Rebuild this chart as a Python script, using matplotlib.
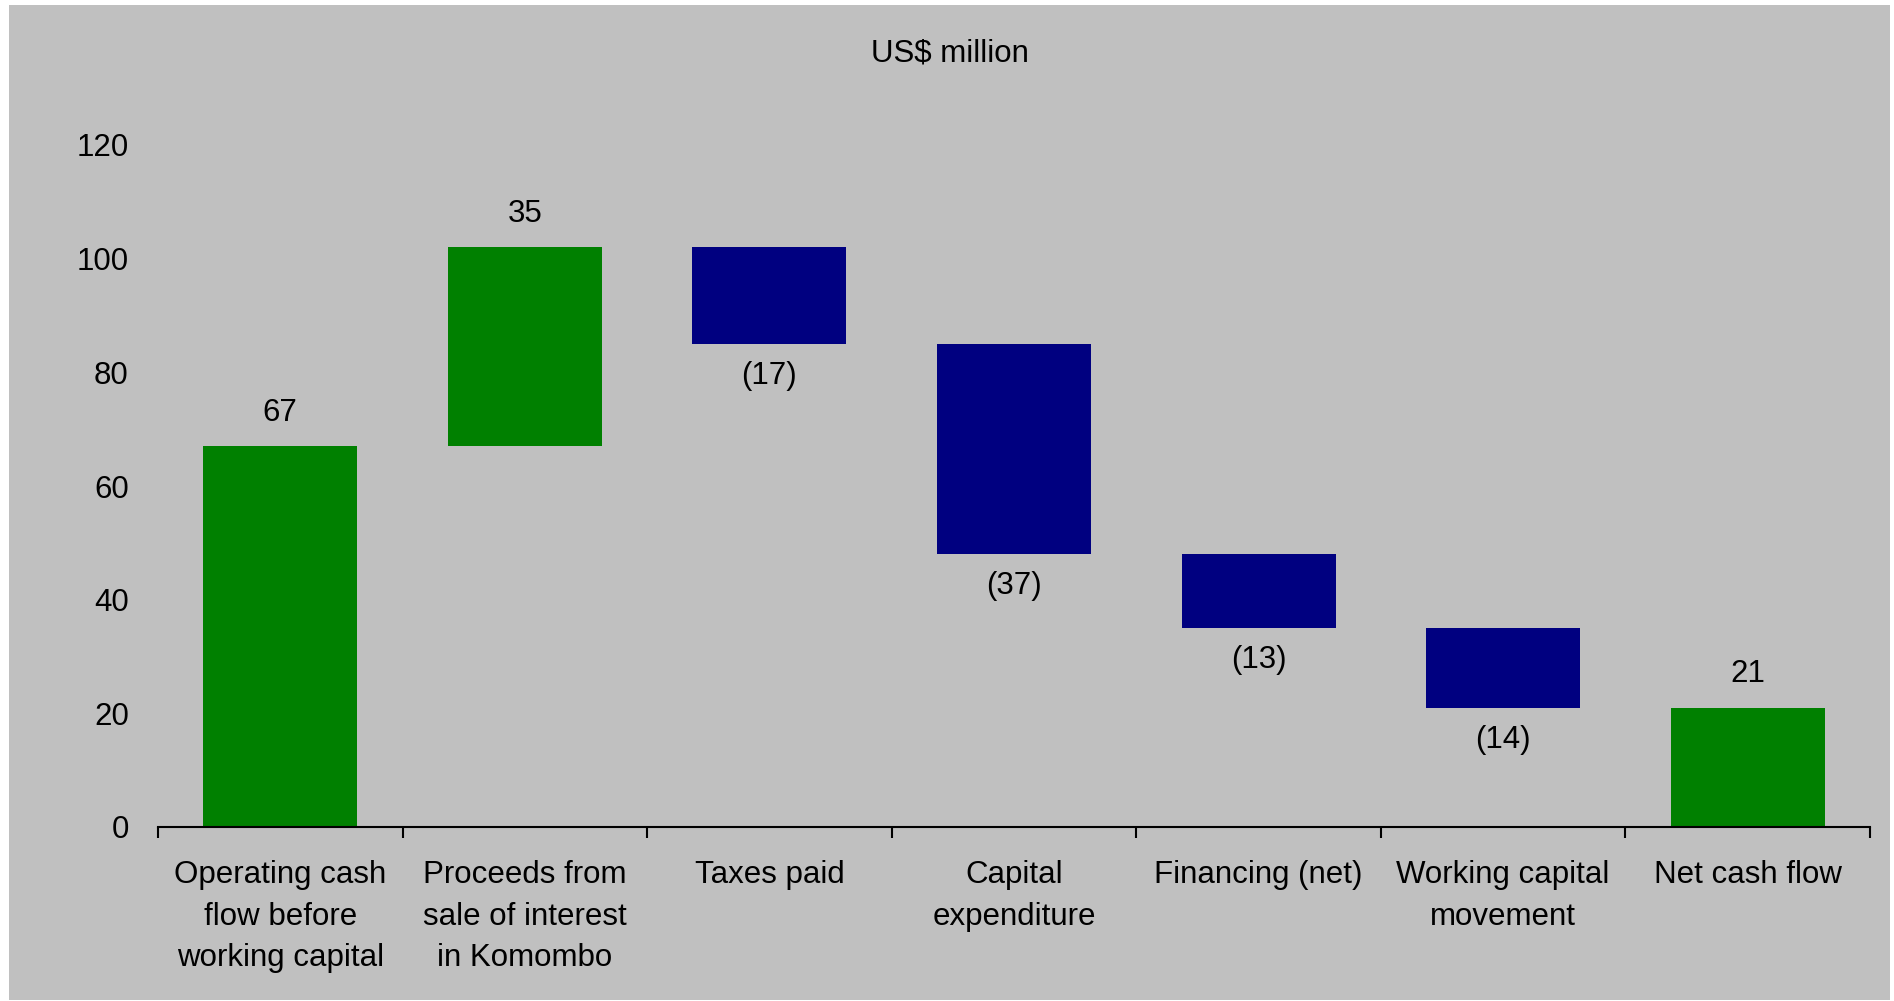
import matplotlib
matplotlib.use("Agg")
import matplotlib.pyplot as plt
from matplotlib.patches import Rectangle
import numpy as np

plt.rcParams['font.family'] = ['Liberation Sans', 'DejaVu Sans']

categories = [
    "Operating cash\nflow before\nworking capital",
    "Proceeds from\nsale of interest\nin Komombo",
    "Taxes paid",
    "Capital\nexpenditure",
    "Financing (net)",
    "Working capital\nmovement",
    "Net cash flow",
]
changes = [67, 35, -17, -37, -13, -14, 21]
is_total = [False, False, False, False, False, False, True]
y_ticks = [0, 20, 40, 60, 80, 100, 120]

GREEN = "#008000"
NAVY = "#000080"
BG = "#C0C0C0"

fig = plt.figure(figsize=(18.94, 10.01), dpi=100, facecolor="white")
fig.patches.append(Rectangle((9 / 1894, 1 / 1001), (1890 - 9) / 1894, (996 - 1) / 1001,
                             transform=fig.transFigure, facecolor=BG, edgecolor="none", zorder=-10))

ax = fig.add_axes([158 / 1894, (1001 - 827) / 1001, (1870 - 158) / 1894, (827 - 145) / 1001])
ax.set_facecolor(BG)
ax.patch.set_alpha(0)

x = np.arange(len(categories))
running = 0
for i, (v, tot) in enumerate(zip(changes, is_total)):
    if tot:
        bottom, height = 0, v
    elif v >= 0:
        bottom, height = running, v
    else:
        bottom, height = running + v, -v
    color = GREEN if v >= 0 else NAVY
    ax.bar(x[i], height, bottom=bottom, width=0.63, color=color, edgecolor="none")
    if v >= 0:
        ax.annotate(f"{v}", (x[i], bottom + height), xytext=(0, 24), textcoords="offset points",
                    ha="center", va="center", fontsize=22.5)
    else:
        ax.annotate(f"({-v})", (x[i], bottom), xytext=(0, -23), textcoords="offset points",
                    ha="center", va="center", fontsize=22.5)
    if not tot:
        running += v

ax.set_xlim(-0.5, len(categories) - 0.5)
ax.set_ylim(0, 120)
ax.set_yticks(y_ticks)
ax.set_yticklabels([str(t) for t in y_ticks])
ax.tick_params(axis="y", length=0, pad=21, labelsize=22.5)

ax.set_xticks(x)
ax.set_xticklabels(categories, linespacing=1.5)
ax.tick_params(axis="x", which="major", length=0, pad=24, labelsize=22.5)
ax.set_xticks(np.arange(len(categories) + 1) - 0.5, minor=True)
ax.tick_params(axis="x", which="minor", length=8, width=1.5, direction="out", color="black")

for s in ["top", "right", "left"]:
    ax.spines[s].set_visible(False)
ax.spines["bottom"].set_linewidth(1.5)

fig.text(0.5017, (1001 - 53) / 1001, "US$ million", ha="center", va="center", fontsize=22.5)

fig.savefig("out.png", dpi=100, facecolor="white")
